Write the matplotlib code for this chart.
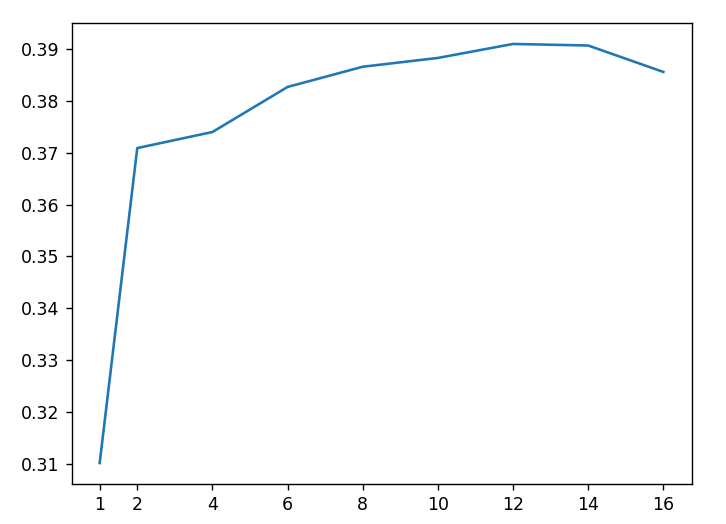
import matplotlib
matplotlib.use("Agg")
import matplotlib.pyplot as plt

# values
steps = [1, 2, 4, 6, 8, 10, 12, 14, 16]
scores = [0.3101, 0.3709, 0.3740, 0.3827, 0.3866, 0.3883, 0.3910, 0.3907, 0.3856]

fig = plt.figure(figsize=(726 / 125, 524 / 125), dpi=125)
ax = fig.add_axes([71.5 / 726, 40 / 524, 620 / 726, 461 / 524])
ax.plot(steps, scores)
ax.set_xticks(steps)

fig.savefig("out.png", dpi=125)
